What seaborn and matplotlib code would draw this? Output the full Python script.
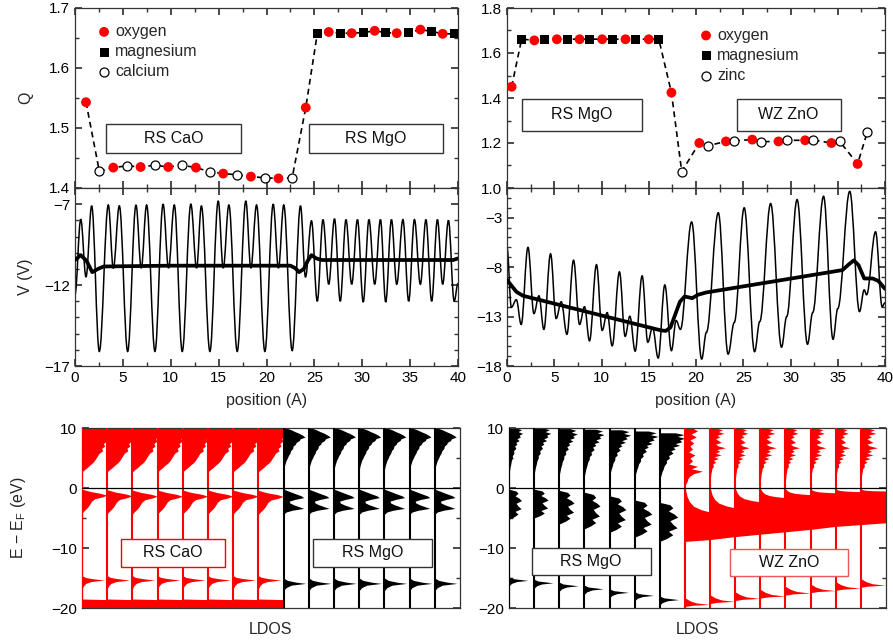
import numpy as np
import pandas as pd
import matplotlib
matplotlib.use('Agg')
import matplotlib.pyplot as plt
import seaborn as sns
from matplotlib.path import Path
from matplotlib.patches import PathPatch, Rectangle
from matplotlib.ticker import MultipleLocator, FormatStrFormatter

# ---------------- data: charge Q ----------------
qL_x = [1.15, 2.54, 4.0, 5.46, 6.85, 8.35, 9.74, 11.2, 12.63, 14.09, 15.48, 16.94, 18.37, 19.83,
        21.25, 22.68, 24.1, 25.3, 26.5, 27.7, 28.9, 30.1, 31.3, 32.45, 33.6, 34.85, 36.07, 37.25,
        38.4, 39.6]
qL_y = [1.543, 1.428, 1.434, 1.437, 1.435, 1.438, 1.435, 1.438, 1.434, 1.427, 1.424, 1.422, 1.419,
        1.417, 1.416, 1.417, 1.534, 1.657, 1.660, 1.658, 1.658, 1.659, 1.662, 1.659, 1.658, 1.659,
        1.664, 1.661, 1.657, 1.657]
qL_species = ['O', 'Ca'] * 8 + ['O'] + ['Mg', 'O'] * 6 + ['Mg']

qR_x = [0.49, 1.55, 2.89, 3.98, 5.28, 6.37, 7.68, 8.77, 10.07, 11.16, 12.54, 13.56, 15.0, 16.06,
        17.4, 18.49, 20.35, 21.27, 23.17, 24.05, 25.95, 26.87, 28.73, 29.58, 31.55, 32.43, 34.33,
        35.21, 37.1, 38.13]
qR_y = [1.450, 1.662, 1.656, 1.662, 1.661, 1.662, 1.661, 1.662, 1.661, 1.662, 1.661, 1.662, 1.661,
        1.662, 1.424, 1.073, 1.200, 1.188, 1.207, 1.210, 1.215, 1.206, 1.207, 1.212, 1.212, 1.213,
        1.200, 1.207, 1.107, 1.249]
qR_species = ['O', 'Mg'] * 7 + ['O', 'Zn'] * 8

# ---------------- data: potential V (extrema of the raw potential) ----------------
vL_x = [0, 0.6, 1.15, 1.74, 2.54, 3.48, 4.0, 4.63, 5.5, 6.37, 6.92, 7.48, 8.35, 9.2, 9.77, 10.37,
        11.2, 12.1, 12.7, 13.2, 14.09, 14.96, 15.48, 16.07, 16.94, 17.84, 18.37, 18.96, 19.83,
        20.7, 21.25, 21.8, 22.68, 23.55, 24.07, 24.7, 25.3, 25.9, 26.5, 27.1, 27.7, 28.3, 28.9,
        29.5, 30.1, 30.7, 31.3, 31.9, 32.45, 33.05, 33.6, 34.25, 34.85, 35.45, 36.07, 36.65,
        37.25, 37.85, 38.4, 39.0, 39.6, 40.0]
vL_y = [-12.57, -7.93, -11.5, -7.1, -16.1, -7.05, -10.95, -7.1, -16.1, -7.05, -10.95, -7.05,
        -16.1, -7.0, -10.95, -7.05, -16.1, -7.0, -10.95, -7.1, -16.1, -6.8, -10.95, -7.05, -16.1,
        -6.8, -10.95, -7.05, -16.1, -7.0, -10.95, -7.05, -16.05, -7.1, -11.5, -8.03, -13.0, -7.95,
        -11.95, -7.9, -13.0, -7.95, -11.95, -7.95, -13.05, -7.95, -11.95, -7.95, -13.05, -7.95,
        -11.95, -7.95, -13.0, -7.95, -11.95, -7.95, -13.0, -7.95, -11.95, -8.0, -13.0, -11.9]
vL_avg_x = [0, 0.6, 1.2, 1.8, 2.4, 3.0, 10.0, 22.5, 23.0, 23.4, 23.9, 24.3, 24.7, 25.2, 25.8,
            39.5, 40.0]
vL_avg_y = [-10.45, -10.15, -10.5, -11.2, -11.0, -10.85, -10.8, -10.8, -10.95, -11.2, -11.0,
            -10.5, -10.15, -10.35, -10.45, -10.45, -10.35]

vR_x = [0, 0.46, 0.99, 1.5, 2.22, 2.85, 3.38, 3.9, 4.61, 5.2, 5.74, 6.34, 7.04, 7.68, 8.2, 8.73,
        9.47, 10.07, 10.6, 11.13, 11.9, 12.5, 13.0, 13.56, 14.3, 14.9, 15.4, 16.0, 16.7, 17.4,
        17.9, 18.35, 19.54, 20.6, 21.1, 22.36, 23.4, 24.05, 25.1, 26.2, 26.75, 27.9, 29.05, 29.6,
        30.7, 31.8, 32.35, 33.5, 34.5, 35.0, 36.27, 37.3, 37.8, 38.05, 39.0, 39.7, 40.0]
vR_y = [-6.0, -12.07, -11.3, -13.8, -6.0, -12.7, -10.9, -14.3, -6.65, -13.2, -11.5, -14.8, -7.3,
        -13.8, -12.0, -15.46, -7.75, -14.4, -12.6, -15.96, -8.48, -15.0, -12.97, -16.5, -8.88,
        -15.6, -14.1, -17.2, -9.8, -16.45, -13.4, -14.3, -3.43, -17.3, -14.6, -2.5, -16.8, -13.6,
        -2.0, -16.55, -13.5, -1.57, -16.1, -13.0, -1.17, -15.8, -12.6, -0.84, -15.3, -12.2, -0.34,
        -12.5, -10.3, -10.8, -4.43, -12.0, -11.6]
vR_avg_x = [0, 0.5, 1.0, 1.7, 16.3, 16.8, 17.3, 17.8, 18.3, 18.8, 19.6, 20.2, 21.05, 35.5, 36.2,
            36.7, 37.2, 37.8, 38.7, 39.3, 40.0]
vR_avg_y = [-9.3, -9.9, -10.5, -10.9, -14.4, -14.45, -14.1, -12.8, -11.5, -10.97, -11.14, -10.8,
            -10.57, -8.3, -7.7, -7.32, -7.8, -9.15, -9.15, -9.4, -10.2]

# ---------------- data: layer-resolved DOS ----------------
left_cols = list(range(15))
left_mat = ['CaO'] * 8 + ['MgO'] * 7
right_cols = list(range(15))
right_mat = ['MgO'] * 7 + ['ZnO'] * 8
fermi = 0.0

cao_cond_E = [10.0, 8.6, 8.2, 7.8, 7.4, 7.0, 6.6, 6.2, 5.8, 5.4, 5.0, 4.6, 4.2, 3.8, 3.4, 3.0, 2.7]
cao_cond_W = [1.0, 1.0, 0.93, 0.97, 0.85, 0.9, 0.78, 0.82, 0.68, 0.62, 0.56, 0.5, 0.42, 0.3, 0.2,
              0.08, 0.0]
cao_val_E = [-0.3, -0.7, -1.0, -1.3, -1.6, -1.9, -2.3, -2.7, -3.1, -3.5, -3.9, -4.3]
cao_val_W = [0.0, 0.35, 0.75, 1.0, 0.8, 0.5, 0.38, 0.32, 0.26, 0.18, 0.08, 0.0]
cao_s_E = [-14.6, -14.9, -15.1, -15.35, -15.6, -15.9, -16.3, -16.8]
cao_s_W = [0.0, 0.12, 0.4, 0.88, 0.35, 0.15, 0.06, 0.0]
cao_p_E = [-18.5, -18.6, -20.0]
cao_p_W = [0.0, 1.0, 1.0]
cao_vshift = [0.1, 0.0, -0.05, -0.05, -0.05, -0.05, -0.05, -0.1]

mgo_cond_E = [10.0, 9.7, 9.4, 9.1, 8.8, 8.5, 8.2, 7.9, 7.6, 7.3, 7.0, 6.6, 6.2, 5.8, 5.4, 5.0,
              4.6, 4.2, 3.8, 3.4, 3.0]
mgo_cond_W = [0.1, 0.3, 0.45, 0.62, 0.75, 0.85, 0.66, 0.62, 0.5, 0.47, 0.38, 0.36, 0.28, 0.25,
              0.19, 0.15, 0.1, 0.07, 0.04, 0.02, 0.0]
mgo_val_E = [-0.2, -0.6, -1.0, -1.3, -1.6, -1.9, -2.2, -2.5, -2.8, -3.1, -3.4, -3.7, -4.0, -4.4]
mgo_val_W = [0.0, 0.25, 0.5, 0.7, 0.8, 0.45, 0.22, 0.25, 0.4, 0.6, 0.8, 0.35, 0.1, 0.0]
mgo_s_E = [-15.0, -15.4, -15.7, -15.9, -16.2, -16.6, -17.1]
mgo_s_W = [0.0, 0.15, 0.5, 0.88, 0.3, 0.1, 0.0]

rmgo_cE = [10.0, 9.7, 9.4, 9.1, 8.8, 8.5, 8.2, 7.9, 7.6, 7.3, 7.0, 6.6, 6.2, 5.8, 5.4, 5.0, 4.5,
           4.0, 3.5, 3.0, 2.5, 2.0]
rmgo_cW = [0.35, 0.55, 0.4, 0.6, 0.45, 0.5, 0.35, 0.45, 0.3, 0.35, 0.25, 0.3, 0.2, 0.22, 0.15,
           0.15, 0.1, 0.08, 0.05, 0.03, 0.01, 0.0]
rmgo_cscale = [0.9, 1.1, 1.2, 1.3, 1.4, 1.55, 1.75]
rmgo_cshift = [0.0, 0.0, -0.1, -0.2, -0.3, -0.5, -0.8]
rmgo_vt = [0.0, 0.06, 0.14, 0.22, 0.3, 0.38, 0.47, 0.56, 0.65, 0.74, 0.83, 0.92, 1.0]
rmgo_vw = [0.0, 0.35, 0.45, 0.3, 0.5, 0.62, 0.35, 0.45, 0.6, 0.3, 0.45, 0.25, 0.0]
rmgo_vtop = [-0.2, -0.2, -0.4, -0.7, -1.3, -2.0, -2.4]
rmgo_vbot = [-5.2, -5.0, -6.0, -6.8, -7.4, -8.2, -8.9]
rmgo_vscale = [0.8, 0.9, 0.95, 1.0, 1.05, 1.1, 1.15]
rmgo_s_pos = [-15.4, -15.8, -16.3, -16.8, -17.4, -17.9, -18.6]
rmgo_s_dE = [0.6, 0.3, 0.0, -0.2, -0.5, -0.9]
rmgo_s_W = [0.0, 0.15, 0.75, 0.3, 0.1, 0.0]

zno7_cE = [10.0, 9.5, 9.0, 8.5, 8.0, 7.5, 7.0, 6.5, 6.0, 5.5, 5.0, 4.5, 4.0, 3.6, 3.2, 2.8, 2.4,
           2.0, 1.6, 1.2, 0.8, 0.4]
zno7_cW = [0.3, 0.5, 0.25, 0.45, 0.2, 0.35, 0.2, 0.3, 0.15, 0.4, 0.2, 0.3, 0.15, 0.5, 0.25, 0.7,
           0.35, 0.2, 0.12, 0.1, 0.05, 0.0]
zno_cE = [10.0, 9.7, 9.4, 9.1, 8.8, 8.5, 8.2, 7.9, 7.6, 7.3, 7.0, 6.7, 6.4, 6.1, 5.8, 5.5, 5.2,
          4.9, 4.6, 4.3, 4.0, 3.6, 3.2, 2.8, 2.4, 2.0, 1.6, 1.2]
zno_cW = [0.2, 0.45, 0.3, 0.5, 0.25, 0.35, 0.2, 0.3, 0.4, 0.2, 0.3, 0.55, 0.25, 0.35, 0.2, 0.4,
          0.15, 0.3, 0.12, 0.2, 0.1, 0.12, 0.06, 0.05, 0.03, 0.02, 0.01, 0.0]
zno_cscale = [1.0, 1.1, 1.0, 1.15, 1.0, 1.1, 1.0, 1.2]
zno_vtop = [-0.2, -0.2, -0.2, -0.2, -0.2, -0.2, -0.2, -0.2]
zno_vfull = [-4.0, -3.3, -2.3, -1.6, -1.1, -0.8, -0.6, -0.5]
zno_vbot = [-8.9, -8.6, -8.1, -7.7, -7.3, -6.9, -6.4, -6.1, -5.8]
zno_ramp_t = [0.0, 0.3, 0.55, 0.75, 0.9, 1.0]
zno_ramp_w = [0.02, 0.08, 0.18, 0.35, 0.65, 1.0]
zno_s_pos = [-19.4, -18.9, -18.4, -18.0, -17.5, -17.1, -16.7, -16.2]
zno_s_dE = [1.1, 0.6, 0.25, 0.0, -0.15, -0.35]
zno_s_W = [0.0, 0.2, 0.45, 0.97, 0.3, 0.0]

# ---------------- style ----------------
FS = 11.5
TFS = 11
sns.set_theme(style='ticks')
plt.rcParams['font.family'] = ['Liberation Sans', 'DejaVu Sans']
plt.rcParams.update({
    'font.size': FS, 'axes.labelsize': FS, 'xtick.labelsize': TFS, 'ytick.labelsize': TFS,
    'axes.linewidth': 0.9, 'axes.edgecolor': '#333333',
    'xtick.direction': 'in', 'ytick.direction': 'in', 'xtick.top': True, 'ytick.right': True,
    'xtick.major.size': 5, 'ytick.major.size': 5, 'xtick.minor.size': 3, 'ytick.minor.size': 3,
    'xtick.color': '#333333', 'ytick.color': '#333333',
    'xtick.labelcolor': 'black', 'ytick.labelcolor': 'black',
    'mathtext.default': 'regular',
})
RED = '#ff0000'

fig = plt.figure(figsize=(8.93, 6.4), dpi=100)
FW, FH = 893, 640
def rect(l, t, r, b):
    return [l / FW, 1 - b / FH, (r - l) / FW, (b - t) / FH]

axQL = fig.add_axes(rect(75, 8, 458, 188))
axVL = fig.add_axes(rect(75, 188, 458, 366))
axQR = fig.add_axes(rect(507, 8, 885, 188))
axVR = fig.add_axes(rect(507, 188, 885, 366))
axLL = fig.add_axes(rect(82, 428, 460, 608))
axLR = fig.add_axes(rect(509, 428, 886, 608))


def boxed_text(ax, x0, y0, x1, y1, txt, ec):
    ax.add_patch(Rectangle((x0, y0), x1 - x0, y1 - y0, fc='white', ec=ec, lw=1.0, zorder=5))
    ax.text((x0 + x1) / 2, (y0 + y1) / 2, txt, ha='center', va='center', fontsize=FS,
            zorder=6, color='#111111')


def draw_q(ax, xs, ys, sp, third, third_label):
    df = pd.DataFrame({'x': xs, 'y': ys, 'sp': sp})
    sns.lineplot(data=df, x='x', y='y', ax=ax, sort=False, estimator=None, color='black',
                 lw=1.2, zorder=2)
    ax.lines[-1].set_dashes([3.5, 2.5])
    sns.scatterplot(data=df[df.sp == 'O'], x='x', y='y', ax=ax, color=RED, marker='o', s=50,
                    edgecolor='none', label='oxygen', zorder=3)
    sns.scatterplot(data=df[df.sp == 'Mg'], x='x', y='y', ax=ax, color='black', marker='s',
                    s=42, edgecolor='none', label='magnesium', zorder=3)
    sns.scatterplot(data=df[df.sp == third], x='x', y='y', ax=ax, color='white', marker='o',
                    s=42, edgecolor='black', linewidth=0.9, label=third_label, zorder=3)
    ax.set_xlim(0, 40)
    ax.set_xlabel('')
    ax.tick_params(labelbottom=False)
    ax.xaxis.set_major_locator(MultipleLocator(5))
    ax.xaxis.set_minor_locator(MultipleLocator(2.5))


def smooth_line(ax, xs, ys, lw=1.1):
    verts = [(xs[0], ys[0])]
    codes = [Path.MOVETO]
    k = 0.37
    for i in range(len(xs) - 1):
        dx = xs[i + 1] - xs[i]
        verts += [(xs[i] + k * dx, ys[i]), (xs[i + 1] - k * dx, ys[i + 1]), (xs[i + 1], ys[i + 1])]
        codes += [Path.CURVE4] * 3
    ax.add_patch(PathPatch(Path(verts, codes), fill=False, ec='black', lw=lw, zorder=2))


def draw_v(ax, xs, ys, ax_, ay_):
    smooth_line(ax, xs, ys)
    sns.lineplot(x=ax_, y=ay_, ax=ax, sort=False, estimator=None, color='black', lw=2.7,
                 zorder=3)
    ax.set_xlim(0, 40)
    ax.xaxis.set_major_locator(MultipleLocator(5))
    ax.xaxis.set_minor_locator(MultipleLocator(2.5))
    ax.yaxis.set_minor_locator(MultipleLocator(1))
    ax.set_xlabel('position (A)')
    ax.xaxis.set_label_coords(0.5, -0.15)


# ---- top-left: Q ----
draw_q(axQL, qL_x, qL_y, qL_species, 'Ca', 'calcium')
axQL.set_ylim(1.4, 1.7)
axQL.yaxis.set_major_locator(MultipleLocator(0.1))
axQL.yaxis.set_minor_locator(MultipleLocator(0.05))
axQL.yaxis.set_major_formatter(FormatStrFormatter('%.1f'))
axQL.set_ylabel('Q')
axQL.yaxis.set_label_coords(-0.11, 0.5)
axQL.legend(loc='upper left', bbox_to_anchor=(0.03, 0.955), frameon=False, handletextpad=0.1,
            labelspacing=0.32, borderpad=0, handlelength=1.2, fontsize=FS)
boxed_text(axQL, 3.24, 1.458, 17.3, 1.507, 'RS CaO', '#333333')
boxed_text(axQL, 24.4, 1.458, 38.4, 1.507, 'RS MgO', '#333333')

# ---- top-right: Q ----
draw_q(axQR, qR_x, qR_y, qR_species, 'Zn', 'zinc')
axQR.set_ylim(1.0, 1.8)
axQR.yaxis.set_major_locator(MultipleLocator(0.2))
axQR.yaxis.set_minor_locator(MultipleLocator(0.1))
axQR.yaxis.set_major_formatter(FormatStrFormatter('%.1f'))
axQR.set_ylabel('')
axQR.legend(loc='upper left', bbox_to_anchor=(0.48, 0.935), frameon=False, handletextpad=0.1,
            labelspacing=0.32, borderpad=0, handlelength=1.2, fontsize=FS)
boxed_text(axQR, 1.58, 1.255, 14.25, 1.397, 'RS MgO', '#333333')
boxed_text(axQR, 24.3, 1.255, 35.3, 1.397, 'WZ ZnO', '#333333')

# ---- middle: V ----
draw_v(axVL, vL_x, vL_y, vL_avg_x, vL_avg_y)
axVL.set_ylim(-17, -6)
axVL.set_yticks([-17, -12, -7])
axVL.set_ylabel('V (V)')
axVL.yaxis.set_label_coords(-0.11, 0.5)

draw_v(axVR, vR_x, vR_y, vR_avg_x, vR_avg_y)
axVR.set_ylim(-18, 0)
axVR.set_yticks([-18, -13, -8, -3])
axVR.set_ylabel('')


# ---- bottom: LDOS ----
def fill_col(ax, x0, E, Wd, color):
    E = np.asarray(E, float)
    Wd = np.clip(np.asarray(Wd, float), 0, 0.985)
    ax.fill_betweenx(E, x0, x0 + Wd, color=color, lw=0, zorder=2)


for c, mat in zip(left_cols, left_mat):
    if mat == 'CaO':
        fill_col(axLL, c, cao_cond_E, cao_cond_W, RED)
        fill_col(axLL, c, np.array(cao_val_E) + cao_vshift[c], cao_val_W, RED)
        fill_col(axLL, c, cao_s_E, cao_s_W, RED)
        fill_col(axLL, c, cao_p_E, cao_p_W, RED)
    else:
        fill_col(axLL, c, mgo_cond_E, mgo_cond_W, 'black')
        fill_col(axLL, c, mgo_val_E, mgo_val_W, 'black')
        fill_col(axLL, c, mgo_s_E, mgo_s_W, 'black')
axLL.vlines(left_cols, -20, 10, colors=[RED if m == 'CaO' else 'black' for m in left_mat],
            lw=1.5, zorder=3)

for c, mat in zip(right_cols, right_mat):
    if mat == 'MgO':
        i = c
        fill_col(axLR, c, np.array(rmgo_cE) + rmgo_cshift[i],
                 np.array(rmgo_cW) * rmgo_cscale[i], 'black')
        vE = rmgo_vtop[i] + np.array(rmgo_vt) * (rmgo_vbot[i] - rmgo_vtop[i])
        fill_col(axLR, c, vE, np.array(rmgo_vw) * rmgo_vscale[i], 'black')
        fill_col(axLR, c, rmgo_s_pos[i] + np.array(rmgo_s_dE), rmgo_s_W, 'black')
    else:
        j = c - 7
        if j == 0:
            fill_col(axLR, c, zno7_cE, zno7_cW, RED)
        else:
            fill_col(axLR, c, zno_cE, np.array(zno_cW) * zno_cscale[j], RED)
        vE = list(zno_vtop[j] + np.array(zno_ramp_t) * (zno_vfull[j] - zno_vtop[j]))
        vE += [zno_vbot[j + 1], zno_vbot[j]]
        vW = list(zno_ramp_w) + [1.0, 0.0]
        fill_col(axLR, c, vE, vW, RED)
        fill_col(axLR, c, zno_s_pos[j] + np.array(zno_s_dE), zno_s_W, RED)
axLR.vlines(right_cols, -20, 10, colors=[RED if m == 'ZnO' else 'black' for m in right_mat],
            lw=1.5, zorder=3)

for ax in (axLL, axLR):
    ax.axhline(fermi, color='black', lw=0.9, zorder=4)
    ax.set_xlim(0, 15)
    ax.set_ylim(-20, 10)
    ax.set_xticks([])
    ax.set_yticks([-20, -10, 0, 10])
    ax.yaxis.set_minor_locator(MultipleLocator(5))
    ax.set_xlabel('LDOS')
    ax.xaxis.set_label_coords(0.5, -0.075)
axLL.set_ylabel('E − E$_{F}$ (eV)')
axLL.yaxis.set_label_coords(-0.143, 0.5)

boxed_text(axLL, 1.55, -13.1, 5.67, -8.55, 'RS CaO', RED)
boxed_text(axLL, 9.17, -13.1, 13.89, -8.55, 'RS MgO', '#333333')
boxed_text(axLR, 0.91, -14.5, 5.63, -10.05, 'RS MgO', '#333333')
boxed_text(axLR, 8.8, -14.7, 13.5, -10.2, 'WZ ZnO', '#ee5555')

fig.savefig('out.png', dpi=100)
